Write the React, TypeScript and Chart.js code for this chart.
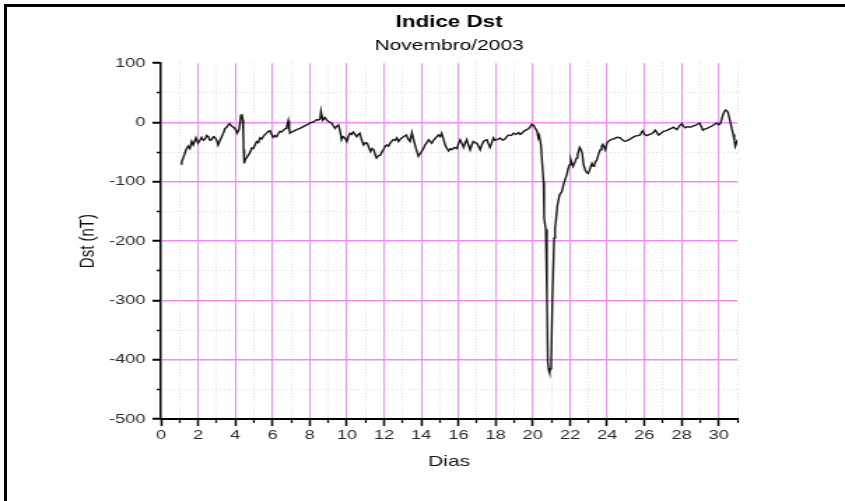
import { useEffect, useRef } from "react";
import { Chart, registerables } from "chart.js";

Chart.register(...registerables);

// Dst values (day of month, nT)
const days: number[] = [
  1.06, 1.12, 1.2, 1.35, 1.47, 1.56, 1.65, 1.74, 1.88, 2.0, 2.1, 2.19, 2.28, 2.37, 2.46, 2.55, 2.64, 2.73, 2.82, 2.9,
  3.0, 3.08, 3.18, 3.27, 3.36, 3.45, 3.54, 3.62, 3.7, 3.8, 3.9, 3.98, 4.05, 4.1, 4.2, 4.25, 4.3, 4.35, 4.4, 4.43,
  4.45, 4.48, 4.54, 4.6, 4.7, 4.8, 4.88, 4.97, 5.06, 5.15, 5.24, 5.33, 5.42, 5.5, 5.6, 5.69, 5.78, 5.87, 5.95, 6.04,
  6.13, 6.22, 6.31, 6.4, 6.5, 6.62, 6.7, 6.77, 6.85, 6.9, 6.94, 7.03, 7.12, 7.3, 7.48, 7.66, 7.84, 7.92, 8.0, 8.1,
  8.2, 8.3, 8.38, 8.47, 8.56, 8.61, 8.66, 8.7, 8.77, 8.83, 8.92, 9.0, 9.1, 9.18, 9.28, 9.37, 9.46, 9.55, 9.64, 9.72,
  9.8, 9.9, 10.0, 10.08, 10.17, 10.26, 10.35, 10.44, 10.53, 10.62, 10.7, 10.8, 10.9, 11.0, 11.1, 11.18, 11.27, 11.36, 11.45, 11.52,
  11.6, 11.7, 11.8, 11.88, 11.97, 12.06, 12.15, 12.24, 12.32, 12.41, 12.5, 12.6, 12.69, 12.78, 12.86, 12.95, 13.05, 13.2, 13.3, 13.4,
  13.5, 13.6, 13.7, 13.78, 13.85, 13.95, 14.04, 14.12, 14.2, 14.3, 14.4, 14.48, 14.57, 14.66, 14.75, 14.84, 14.93, 15.02, 15.1, 15.2,
  15.29, 15.38, 15.47, 15.56, 15.65, 15.78, 15.92, 16.0, 16.1, 16.2, 16.28, 16.36, 16.45, 16.54, 16.63, 16.72, 16.8, 16.9, 17.0, 17.08,
  17.17, 17.26, 17.35, 17.44, 17.53, 17.62, 17.7, 17.8, 17.88, 17.97, 18.06, 18.15, 18.25, 18.38, 18.5, 18.6, 18.7, 18.85, 18.97, 19.1,
  19.24, 19.32, 19.42, 19.55, 19.68, 19.78, 19.87, 19.95, 20.05, 20.13, 20.22, 20.3, 20.35, 20.44, 20.5, 20.58, 20.61, 20.65, 20.7, 20.76,
  20.81, 20.86, 20.9, 20.95, 20.99, 21.06, 21.15, 21.2, 21.26, 21.33, 21.44, 21.56, 21.65, 21.75, 21.83, 21.9, 21.98, 22.04, 22.1, 22.16,
  22.22, 22.28, 22.35, 22.41, 22.47, 22.52, 22.58, 22.66, 22.73, 22.82, 22.91, 22.98, 23.06, 23.12, 23.18, 23.25, 23.31, 23.38, 23.45, 23.55,
  23.63, 23.7, 23.77, 23.84, 23.9, 23.96, 24.02, 24.15, 24.26, 24.35, 24.45, 24.55, 24.7, 24.85, 24.97, 25.1, 25.24, 25.38, 25.51, 25.65,
  25.78, 25.85, 25.92, 26.0, 26.14, 26.28, 26.41, 26.5, 26.59, 26.68, 26.77, 26.9, 27.03, 27.15, 27.3, 27.45, 27.57, 27.66, 27.75, 27.88,
  28.02, 28.1, 28.2, 28.33, 28.47, 28.6, 28.74, 28.85, 28.97, 29.05, 29.15, 29.25, 29.37, 29.5, 29.64, 29.78, 29.91, 30.0, 30.09, 30.16,
  30.23, 30.3, 30.36, 30.43, 30.5, 30.57, 30.64, 30.7, 30.78, 30.84, 30.89, 30.95, 31.0,
];

const dstValues: number[] = [
  -70, -66, -60, -46, -40, -44, -32, -38, -26, -35, -30, -25, -30, -28, -22, -24, -30, -29, -24, -25,
  -30, -38, -30, -24, -18, -10, -8, -4, -2, -6, -8, -10, -14, -18, -12, -2, 12, 14, 5, -20,
  -45, -69, -62, -60, -55, -50, -43, -44, -38, -32, -34, -26, -28, -24, -20, -18, -15, -14, -20, -25,
  -22, -24, -19, -15, -16, -12, -10, -7, 3, -10, -18, -16, -15, -12, -10, -7, -4, -3, -1, 0,
  1, 3, 5, 4, 6, 19, 10, 4, 6, 8, 4, 2, 0, -1, -6, -10, -6, -4, -15, -29,
  -24, -26, -32, -24, -18, -20, -16, -20, -24, -20, -18, -30, -38, -34, -35, -42, -49, -44, -46, -54,
  -60, -56, -55, -50, -46, -40, -38, -40, -35, -32, -29, -30, -26, -32, -29, -26, -24, -21, -28, -32,
  -17, -30, -42, -50, -57, -52, -48, -44, -38, -34, -29, -32, -35, -30, -27, -24, -21, -24, -18, -28,
  -38, -44, -48, -44, -46, -42, -44, -36, -29, -36, -42, -35, -29, -38, -46, -38, -32, -34, -35, -40,
  -46, -38, -32, -30, -29, -36, -42, -34, -26, -30, -29, -28, -26, -30, -28, -24, -21, -22, -18, -20,
  -17, -20, -18, -14, -12, -10, -7, -3, -5, -10, -14, -26, -22, -38, -66, -100, -161, -170, -180, -291,
  -404, -418, -422, -415, -404, -291, -195, -178, -161, -139, -122, -117, -105, -95, -88, -78, -71, -62, -68, -74,
  -70, -66, -60, -55, -48, -42, -45, -52, -71, -80, -85, -86, -80, -74, -69, -74, -71, -66, -63, -52,
  -46, -40, -37, -42, -46, -38, -33, -30, -28, -28, -26, -25, -26, -30, -32, -30, -28, -25, -23, -22,
  -21, -16, -14, -20, -22, -20, -19, -16, -13, -17, -21, -18, -15, -14, -12, -10, -8, -10, -12, -6,
  -2, -6, -9, -7, -8, -6, -5, -3, -1, -6, -13, -11, -10, -8, -6, -3, -1, -4, -2, 5,
  13, 18, 21, 20, 17, 8, -1, -10, -20, -30, -40, -35, -29,
];

const xMajorTicks: number[] = [0, 2, 4, 6, 8, 10, 12, 14, 16, 18, 20, 22, 24, 26, 28, 30];
const xMinorTicks: number[] = [1, 3, 5, 7, 9, 11, 13, 15, 17, 19, 21, 23, 25, 27, 29, 31];
const yMajorTicks: number[] = [-500, -400, -300, -200, -100, 0, 100];
const yMinorTicks: number[] = [-450, -350, -250, -150, -50, 50];

const chartTitle = "Indice Dst";
const chartSubtitle = "Novembro/2003";
const xTitle = "Dias";
const yTitle = "Dst (nT)";

// The reference figure is a horizontally stretched image: the chart is drawn
// on a narrower canvas and shown stretched to the page width.
const PAGE_W = 845;
const PAGE_H = 501;
const CANVAS_W = 604;

const FONT = "'Liberation Sans', Arial, Helvetica, sans-serif";
const MAGENTA = "rgb(240, 140, 240)";
const FAINT = "rgba(205, 175, 205, 0.5)";
const CLEAR = "rgba(0,0,0,0)";

export default function App() {
  const canvasRef = useRef<HTMLCanvasElement | null>(null);

  useEffect(() => {
    const canvas = canvasRef.current;
    if (!canvas) return;
    const points = days.map((d, i) => ({ x: d, y: dstValues[i] }));
    const chart = new Chart(canvas, {
      type: "line",
      data: {
        datasets: [
          {
            data: points,
            borderColor: "#161616",
            borderWidth: 1.4,
            pointRadius: 0,
            tension: 0,
            fill: false,
          },
        ],
      },
      options: {
        responsive: false,
        animation: false,
        devicePixelRatio: 1,
        layout: { padding: { left: 0, right: 77, top: 0, bottom: 0 } },
        plugins: {
          legend: { display: false },
          tooltip: { enabled: false },
          title: {
            display: true,
            text: chartTitle,
            fullSize: false,
            color: "#000",
            font: { family: FONT, size: 16, weight: "bold" },
            padding: { top: 13, bottom: 2 },
          },
          subtitle: {
            display: true,
            text: chartSubtitle,
            fullSize: false,
            color: "#000",
            font: { family: FONT, size: 15, weight: "normal" },
            padding: { top: 3, bottom: 8 },
          },
        },
        scales: {
          x: {
            type: "linear",
            position: "bottom",
            min: 0,
            max: 31,
            afterBuildTicks: (s: any) => {
              s.ticks = xMajorTicks.map((v) => ({ value: v }));
            },
            afterFit: (s: any) => {
              s.height = 82;
            },
            grid: {
              color: (ctx: any) => (ctx.tick && ctx.tick.value === 0 ? CLEAR : MAGENTA),
              lineWidth: 1,
              tickLength: 7,
              tickColor: "#000",
              tickWidth: 1.5,
            },
            border: { color: "#000", width: 2 },
            ticks: {
              color: "#2a2a2a",
              font: { family: FONT, size: 13 },
              padding: 2,
              maxRotation: 0,
              autoSkip: false,
            },
            title: {
              display: true,
              text: xTitle,
              color: "#111",
              font: { family: FONT, size: 15 },
              padding: { top: 4, bottom: 30 },
            },
          },
          xMinor: {
            axis: "x",
            type: "linear",
            position: { y: -500 },
            min: 0,
            max: 31,
            afterBuildTicks: (s: any) => {
              s.ticks = xMinorTicks.map((v) => ({ value: v }));
            },
            grid: {
              color: FAINT,
              lineWidth: 1,
              tickLength: 4,
              tickColor: "#000",
              tickWidth: 1.2,
            },
            border: { display: false, dash: [1, 2] },
            ticks: { display: false },
          },
          y: {
            type: "linear",
            position: "left",
            min: -500,
            max: 100,
            afterBuildTicks: (s: any) => {
              s.ticks = yMajorTicks.map((v) => ({ value: v }));
            },
            afterFit: (s: any) => {
              s.width = 115;
            },
            grid: {
              color: (ctx: any) =>
                ctx.tick && (ctx.tick.value === 100 || ctx.tick.value === -500) ? CLEAR : MAGENTA,
              lineWidth: 1.5,
              tickLength: 6,
              tickColor: "#000",
              tickWidth: 2,
            },
            border: { color: "#000", width: 1.5 },
            ticks: {
              color: "#2a2a2a",
              font: { family: FONT, size: 13 },
              padding: 5,
              autoSkip: false,
            },
            title: {
              display: true,
              text: yTitle,
              color: "#111",
              font: { family: FONT, size: 15 },
              padding: { top: 54, bottom: 4 },
            },
          },
          yMinor: {
            axis: "y",
            type: "linear",
            position: { x: 0 },
            min: -500,
            max: 100,
            afterBuildTicks: (s: any) => {
              s.ticks = yMinorTicks.map((v) => ({ value: v }));
            },
            grid: {
              color: FAINT,
              lineWidth: 1,
              tickLength: 3,
              tickColor: "#000",
              tickWidth: 1.5,
            },
            border: { display: false, dash: [1, 2] },
            ticks: { display: false },
          },
        },
      } as any,
    });
    return () => chart.destroy();
  }, []);

  return (
    <div
      style={{
        position: "fixed",
        left: 0,
        top: 0,
        width: PAGE_W,
        height: PAGE_H,
        background: "#fff",
        overflow: "hidden",
      }}
    >
      <canvas
        ref={canvasRef}
        width={CANVAS_W}
        height={PAGE_H}
        style={{ position: "absolute", left: 0, top: 0, width: PAGE_W + "px", height: PAGE_H + "px" }}
      />
      <div style={{ position: "absolute", left: 4, top: 4, width: 841, height: 3, background: "#000" }} />
      <div style={{ position: "absolute", left: 4, top: 4, width: 3, height: 497, background: "#000" }} />
    </div>
  );
}
